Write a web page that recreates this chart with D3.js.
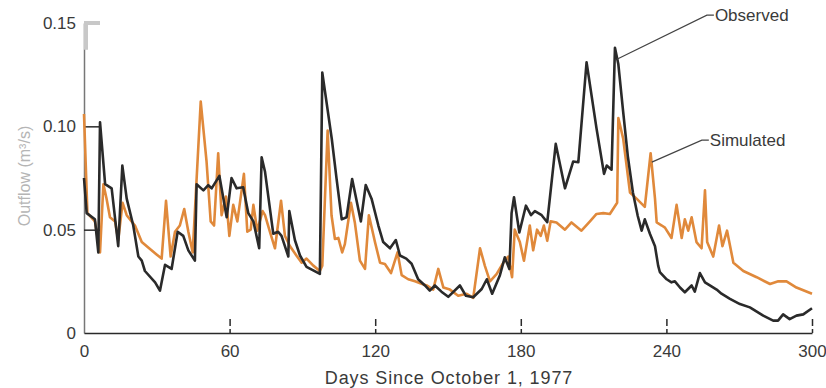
<!DOCTYPE html>
<html>
<head>
<meta charset="utf-8">
<script src="https://cdn.jsdelivr.net/npm/d3@7"></script>
<style>
  body { margin: 0; background: #fff; }
  svg { display: block; font-family: "Liberation Sans", Arial, sans-serif; }
</style>
</head>
<body>
<svg id="chart" width="826" height="388"></svg>
<script>
// [day, outflow m3/s]
const observed = [
  [0,0.075],[1.1,0.058],[4.5,0.055],[5.9,0.039],[6.6,0.102],[8.7,0.072],[11.4,0.070],[14.1,0.042],
  [15.8,0.081],[17.6,0.065],[20.3,0.052],[22.4,0.037],[23.8,0.035],[25.1,0.030],[29.3,0.0245],[31.3,0.0205],
  [33.4,0.033],[36.1,0.031],[38.6,0.049],[40.9,0.047],[43,0.040],[45.7,0.035],[46.4,0.072],[49.2,0.069],
  [51.2,0.0715],[52.6,0.070],[55.8,0.076],[58.8,0.056],[60.8,0.075],[62.9,0.070],[65.6,0.0705],[67.7,0.058],
  [69.8,0.054],[72.2,0.041],[73.2,0.085],[74.6,0.078],[78,0.048],[80,0.049],[81.4,0.047],[84.2,0.037],
  [84.6,0.059],[86.9,0.045],[89,0.0375],[91.7,0.032],[97.2,0.0286],[98.2,0.126],[102.1,0.094],[104.1,0.0745],
  [106.2,0.055],[108.2,0.056],[110.5,0.0745],[114.1,0.054],[116.1,0.0716],[118.5,0.065],[121.3,0.052],[123.3,0.044],
  [126.1,0.041],[128.5,0.045],[130.2,0.0375],[132.8,0.036],[135,0.0335],[137.7,0.026],[140.5,0.023],[142.5,0.0205],
  [144.6,0.023],[147.3,0.020],[150.1,0.0175],[154.9,0.023],[157.4,0.018],[160.4,0.0173],[163.9,0.0213],[166,0.026],
  [168.2,0.019],[171.4,0.028],[173.4,0.0366],[175.3,0.031],[176.2,0.058],[177.2,0.0657],[179.4,0.0486],[182.1,0.0616],
  [184.2,0.057],[185.8,0.059],[188.6,0.057],[190.9,0.0536],[194.4,0.0915],[198.2,0.070],[201.6,0.083],[203.7,0.0826],
  [207.1,0.131],[211.2,0.099],[214.3,0.077],[215.4,0.081],[217.4,0.079],[218.8,0.138],[220.2,0.130],[222.1,0.108],
  [224.1,0.0856],[226.2,0.068],[228.2,0.0566],[229.8,0.0495],[231.1,0.055],[233.2,0.048],[235.3,0.042],[236.6,0.0326],
  [237.3,0.0295],[240.1,0.026],[242.1,0.0245],[243.5,0.025],[245.6,0.022],[247.6,0.0197],[250.4,0.023],[251.7,0.020],
  [253.8,0.029],[255.9,0.0245],[257.9,0.023],[260.7,0.021],[262.7,0.019],[266.2,0.0165],[270.3,0.014],[274.4,0.0124],
  [279.9,0.0084],[284,0.006],[286,0.006],[288.1,0.009],[290.8,0.0067],[293.6,0.0084],[296.4,0.009],[300,0.012]
];

const simulated = [
  [0,0.106],[1.4,0.058],[4.5,0.054],[6.6,0.039],[8,0.072],[9.3,0.065],[10.7,0.056],[12.8,0.054],
  [14.1,0.045],[15.9,0.063],[17.6,0.057],[19.6,0.054],[21,0.052],[23.8,0.044],[27.2,0.0406],[29.9,0.038],
  [32,0.036],[33.8,0.064],[35.7,0.037],[37.5,0.049],[39.5,0.052],[41.3,0.060],[43,0.049],[44.8,0.039],
  [48.1,0.112],[50.5,0.083],[52.2,0.054],[53.6,0.052],[55.3,0.087],[56.7,0.057],[58.5,0.066],[59.9,0.047],
  [61.5,0.062],[63.2,0.054],[65.9,0.077],[67.3,0.049],[68.7,0.050],[69.8,0.062],[71.4,0.0495],[73.6,0.059],
  [74.6,0.057],[76.6,0.049],[78.7,0.041],[81.2,0.064],[82.8,0.047],[84.9,0.042],[87.6,0.0374],[89.7,0.034],
  [91.7,0.036],[94.5,0.0326],[97.2,0.030],[98.2,0.0326],[100.4,0.098],[102,0.057],[103.4,0.0455],[104.8,0.046],
  [106.4,0.039],[107.5,0.043],[110,0.063],[111.6,0.0535],[113.7,0.035],[115.8,0.031],[117.4,0.057],[119.9,0.044],
  [122,0.034],[124,0.0334],[126.5,0.029],[129.2,0.039],[130.9,0.028],[133.6,0.026],[136.4,0.025],[138.8,0.024],
  [141.2,0.023],[143.9,0.021],[146,0.031],[148.1,0.022],[150.8,0.021],[154.2,0.018],[157.7,0.019],[160.4,0.017],
  [163.2,0.041],[165.2,0.0325],[167.3,0.025],[170,0.0285],[172.8,0.034],[174.8,0.037],[176.4,0.027],[177.5,0.050],
  [179.6,0.044],[181.3,0.035],[183.7,0.052],[185.1,0.040],[186.7,0.050],[188.2,0.047],[189.5,0.052],[190.9,0.0446],
  [192.3,0.054],[194.7,0.0535],[198.2,0.050],[200.9,0.0535],[205,0.0495],[208.5,0.054],[211.2,0.0576],[214,0.058],
  [216.7,0.0576],[219.7,0.063],[220.2,0.104],[222.2,0.094],[225,0.068],[227.7,0.065],[231.1,0.061],[233.5,0.087],
  [235.3,0.065],[236,0.0535],[238.1,0.052],[239.4,0.051],[242.1,0.046],[244.2,0.062],[246.3,0.046],[247.6,0.055],
  [249,0.0495],[250.4,0.056],[252.4,0.044],[254.5,0.041],[255.9,0.069],[256.8,0.044],[259.3,0.037],[261.7,0.052],
  [263.1,0.042],[265,0.0495],[267.6,0.034],[271.7,0.030],[277.2,0.027],[282.7,0.0237],[286.1,0.025],[289.5,0.025],
  [293.6,0.022],[300,0.019]
];

const xTicks = [0, 60, 120, 180, 240, 300];
const yTicks = [0, 0.05, 0.10, 0.15];
const yTickLabels = ["0", "0.05", "0.10", "0.15"];

// label anchors, in data units
const obsLabelAt = [219.6, 0.1325];
const simLabelAt = [234, 0.0827];

const X0 = 84, X1 = 812, Y0 = 333, Y1 = 23;
const DARK = "#2a2a2a", ORANGE = "#e0893b", TEXT = "#3a3a3a";

const svg = d3.select("#chart");

const x = d3.scaleLinear().domain([0, 300]).range([X0, X1]);
const y = d3.scaleLinear().domain([0, 0.15]).range([Y0, Y1]);

// y axis (ticks point inward)
const yAxis = svg.append("g")
  .attr("transform", `translate(${X0},0)`)
  .call(d3.axisLeft(y).tickValues(yTicks).tickSizeInner(-16).tickSizeOuter(0).tickPadding(24)
    .tickFormat((d, i) => yTickLabels[i]));
yAxis.select(".domain").attr("stroke", "#777").attr("stroke-width", 1.5);
yAxis.selectAll(".tick line").attr("stroke", DARK).attr("stroke-width", 1.5)
  .filter(d => d === 0).remove();
yAxis.selectAll(".tick text")
  .attr("x", -8)
  .attr("font-size", 17)
  .attr("fill", TEXT)
  .attr("font-family", "Liberation Sans, Arial, sans-serif");

// grey bracket at the top of the y axis (as in the print)
svg.append("path")
  .attr("d", `M${X0 + 2},${y(0.137)}V${y(0.15)}H${X0 + 16}`)
  .attr("fill", "none")
  .attr("stroke", "#c8c8c8")
  .attr("stroke-width", 4);

// x axis (dashed ticks point upward)
const xAxis = svg.append("g")
  .attr("transform", `translate(0,${Y0})`)
  .call(d3.axisBottom(x).tickValues(xTicks).tickSizeInner(-14).tickSizeOuter(0).tickPadding(0)
    .tickFormat(d3.format("d")));
xAxis.select(".domain").attr("stroke", DARK).attr("stroke-width", 1.5);
xAxis.selectAll(".tick line")
  .attr("stroke", DARK)
  .attr("stroke-width", 1.5)
  .attr("stroke-dasharray", "4,3,8")
  .filter(d => d === 0).remove();
xAxis.selectAll(".tick text")
  .attr("y", 24)
  .attr("dy", 0)
  .attr("font-size", 17)
  .attr("fill", TEXT)
  .attr("font-family", "Liberation Sans, Arial, sans-serif");

// axis titles
svg.append("text")
  .attr("x", (X0 + X1) / 2 + 1)
  .attr("y", 384)
  .attr("text-anchor", "middle")
  .attr("font-size", 18)
  .attr("letter-spacing", 0.9)
  .attr("fill", TEXT)
  .text("Days Since October 1, 1977");

svg.append("text")
  .attr("transform", `translate(30,${(Y0 + Y1) / 2 - 2}) rotate(-90)`)
  .attr("text-anchor", "middle")
  .attr("font-size", 16)
  .attr("fill", "#b5b5b5")
  .text("Outflow (m³/s)");

// series
const line = d3.line()
  .x(d => x(d[0]))
  .y(d => y(d[1]));

svg.append("path")
  .datum(simulated)
  .attr("d", line)
  .attr("fill", "none")
  .attr("stroke", ORANGE)
  .attr("stroke-width", 2.6)
  .attr("stroke-linejoin", "round");

svg.append("path")
  .datum(observed)
  .attr("d", line)
  .attr("fill", "none")
  .attr("stroke", DARK)
  .attr("stroke-width", 2.6)
  .attr("stroke-linejoin", "round");

// leader labels
function leader(at, dx, dy, label) {
  const ax = x(at[0]), ay = y(at[1]);
  const ex = ax + dx, ey = ay + dy;
  svg.append("path")
    .attr("d", `M${ax},${ay}L${ex},${ey}H${ex + 7}`)
    .attr("fill", "none")
    .attr("stroke", "#444")
    .attr("stroke-width", 1.2);
  svg.append("text")
    .attr("x", ex + 8)
    .attr("y", ey + 6)
    .attr("font-size", 17)
    .attr("fill", TEXT)
    .text(label);
}
leader(obsLabelAt, 90, -44, "Observed");
leader(simLabelAt, 50, -22, "Simulated");
</script>
</body>
</html>
